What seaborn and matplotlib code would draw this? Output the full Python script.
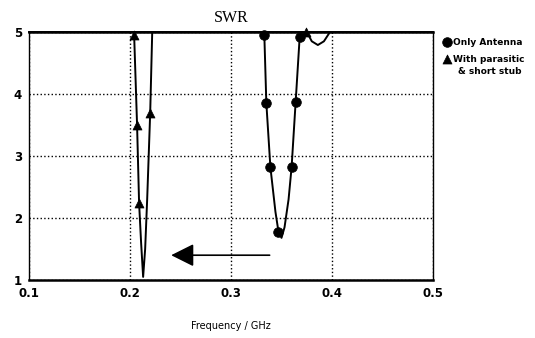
import matplotlib
matplotlib.use('Agg')
import matplotlib.pyplot as plt
import seaborn as sns
import pandas as pd

# curve: only antenna (SWR clipped at 5)
ant_freq = [0.10, 0.330, 0.333, 0.335, 0.339, 0.344, 0.347, 0.350, 0.353, 0.357,
            0.360, 0.364, 0.368, 0.370, 0.375, 0.380, 0.386, 0.392, 0.398, 0.50]
ant_swr = [5.0, 5.0, 4.95, 3.85, 2.82, 2.10, 1.78, 1.68, 1.85, 2.30,
           2.82, 3.87, 4.92, 5.0, 5.0, 4.85, 4.79, 4.85, 5.0, 5.0]
ant_mk_freq = [0.333, 0.335, 0.339, 0.347, 0.360, 0.364, 0.368]
ant_mk_swr = [4.95, 3.85, 2.82, 1.78, 2.82, 3.87, 4.92]

# curve: with parasitic & short stub
par_freq = [0.10, 0.204, 0.207, 0.209, 0.211, 0.213, 0.215, 0.217, 0.220, 0.222, 0.50]
par_swr = [5.0, 5.0, 3.50, 2.24, 1.60, 1.05, 1.50, 2.30, 3.70, 5.0, 5.0]
par_mk_freq = [0.204, 0.207, 0.209, 0.220, 0.374]
par_mk_swr = [4.95, 3.50, 2.24, 3.70, 5.0]

xticks = [0.1, 0.2, 0.3, 0.4, 0.5]
yticks = [1, 2, 3, 4, 5]
labels = ['Only Antenna', 'With parasitic']
label_extra = '& short stub'

sns.set_style('white')
plt.rcParams['text.color'] = 'black'
plt.rcParams['axes.labelcolor'] = 'black'
plt.rcParams['xtick.color'] = 'black'
plt.rcParams['ytick.color'] = 'black'

fig = plt.figure(figsize=(5.35, 3.38), dpi=100)
ax = fig.add_axes([29 / 535, 1 - 280 / 338, 404 / 535, 248 / 338])

ant = pd.DataFrame({'f': ant_freq, 's': ant_swr})
par = pd.DataFrame({'f': par_freq, 's': par_swr})
sns.lineplot(data=ant, x='f', y='s', ax=ax, color='black', lw=1.4, sort=False, clip_on=False)
sns.lineplot(data=par, x='f', y='s', ax=ax, color='black', lw=1.4, sort=False, clip_on=False)

sns.scatterplot(x=ant_mk_freq, y=ant_mk_swr, ax=ax, marker='o', s=48, color='black',
                edgecolor='black', label=labels[0], zorder=5, clip_on=False)
sns.scatterplot(x=par_mk_freq, y=par_mk_swr, ax=ax, marker='^', s=42, color='black',
                edgecolor='black', label=labels[1], zorder=5, clip_on=False)

# arrow showing the shift of resonance
ax.annotate('', xy=(0.238, 1.40), xytext=(0.341, 1.40),
            arrowprops=dict(arrowstyle='-|>,head_length=1.0,head_width=0.5',
                            mutation_scale=14, color='black', lw=1.2))

ax.set_xlim(0.1, 0.5)
ax.set_ylim(1, 5)
ax.set_xticks(xticks)
ax.set_yticks(yticks)
ax.set_xticklabels([str(t) for t in xticks], fontsize=8.5, fontweight='bold')
ax.set_yticklabels([str(t) for t in yticks], fontsize=8.5, fontweight='bold')
ax.tick_params(axis='both', length=3, width=0.8, color='black', pad=2)
ax.grid(True, color='black', linestyle=':', linewidth=1)

for side in ['top', 'bottom']:
    ax.spines[side].set_linewidth(1.8)
for side in ['left', 'right']:
    ax.spines[side].set_linewidth(1.0)
for sp in ax.spines.values():
    sp.set_color('black')

ax.set_xlabel('Frequency / GHz', fontsize=7, labelpad=15)
ax.set_ylabel('')
ax.set_title('SWR', family='Liberation Serif', fontsize=11.5, pad=7)

leg_font = {'family': ['Liberation Sans Narrow', 'DejaVu Sans'], 'weight': 'bold', 'size': 6.5}
leg = ax.legend(loc='upper left', bbox_to_anchor=(439 / 535, 1 - 34 / 338),
                bbox_transform=fig.transFigure, frameon=False, handletextpad=0.2,
                labelspacing=0.9, borderaxespad=0, handlelength=1.0, prop=leg_font)
fig.text(490 / 535, 1 - 71 / 338, label_extra, ha='center', va='center', **leg_font)

fig.savefig('out.png', dpi=100)
